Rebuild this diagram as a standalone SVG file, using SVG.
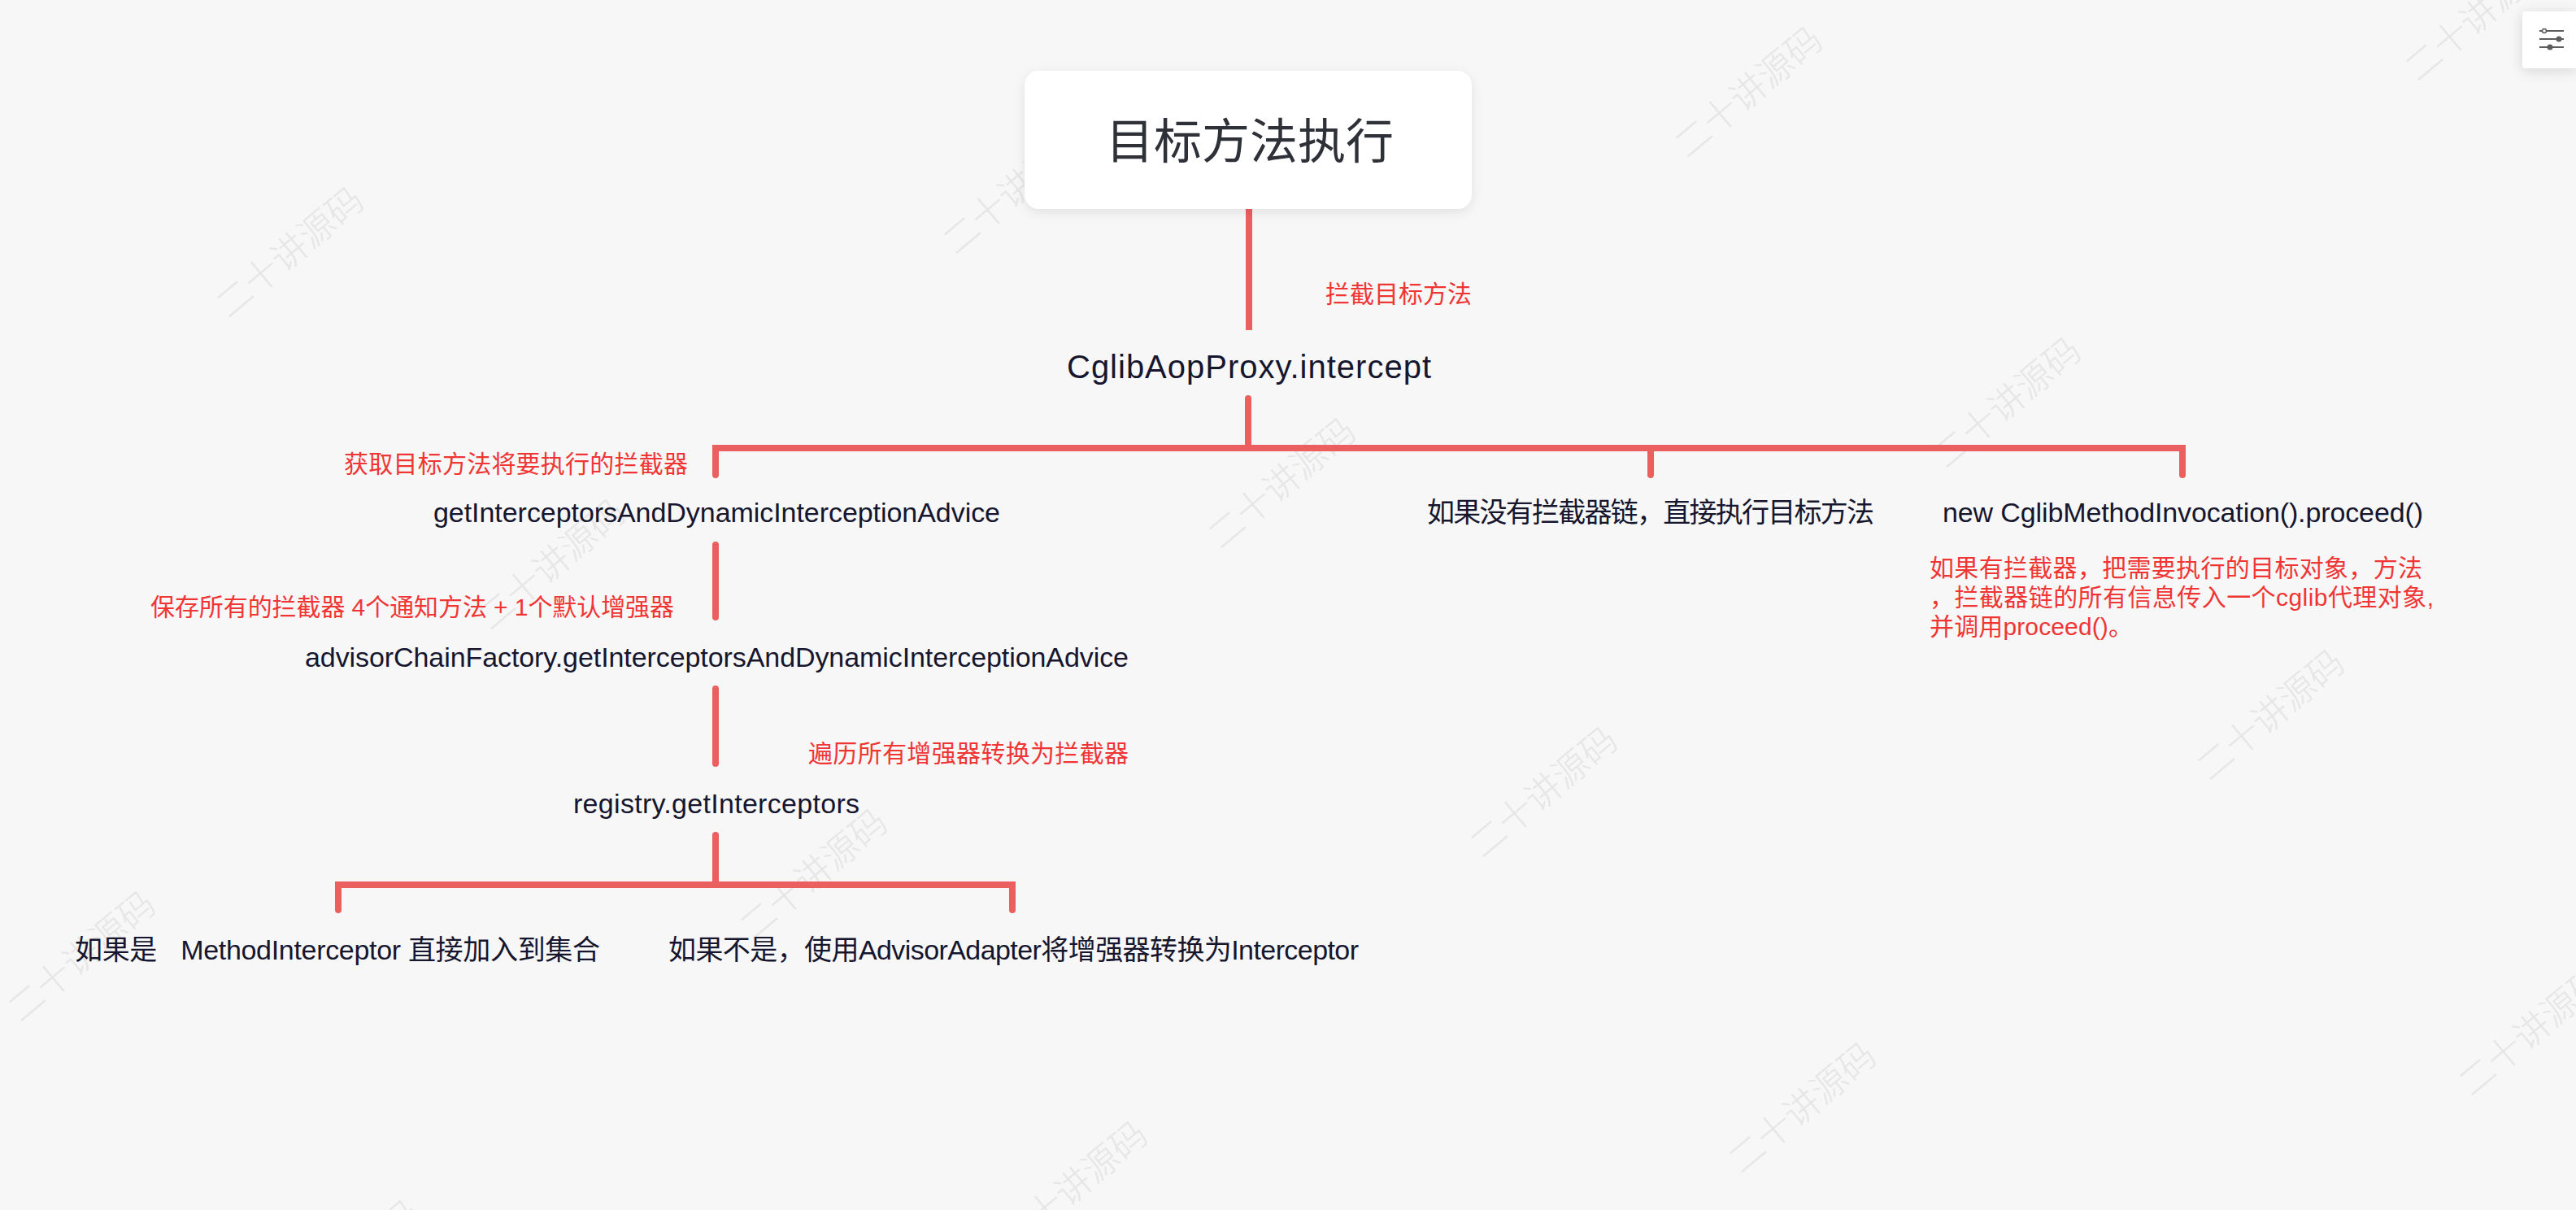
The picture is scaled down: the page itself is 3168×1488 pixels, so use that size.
<svg xmlns="http://www.w3.org/2000/svg" width="3168" height="1488" viewBox="0 0 3168 1488">
<defs>
<style>
text{font-family:"Liberation Sans","Noto Sans CJK SC",sans-serif}
.wm{font-family:"Noto Sans CJK SC",sans-serif;font-size:44px;font-weight:300;fill:#e6e6e6;text-anchor:middle}
.n{font-size:34px;fill:#16162e}
.r{font-size:30px;fill:#f03535}
.c{fill:none;stroke:#ec5f5f;stroke-width:8;stroke-linecap:round;stroke-linejoin:miter}
</style>
<filter id="sh" x="-20%" y="-20%" width="140%" height="150%"><feDropShadow dx="0" dy="4" stdDeviation="7" flood-color="#000" flood-opacity=".09"/></filter>
<filter id="sh2" x="-40%" y="-40%" width="180%" height="180%"><feDropShadow dx="0" dy="3" stdDeviation="8" flood-color="#000" flood-opacity=".14"/></filter>
</defs>
<rect width="3168" height="1488" fill="#f7f7f7"/>
<g id="watermarks">
<text class="wm" transform="translate(366 322) rotate(-40)">二十讲源码</text>
<text class="wm" transform="translate(1260 244) rotate(-40)">二十讲源码</text>
<text class="wm" transform="translate(2160 125) rotate(-40)">二十讲源码</text>
<text class="wm" transform="translate(3058 31) rotate(-40)">二十讲源码</text>
<text class="wm" transform="translate(688 706) rotate(-40)">二十讲源码</text>
<text class="wm" transform="translate(1586 606) rotate(-40)">二十讲源码</text>
<text class="wm" transform="translate(2478 507) rotate(-40)">二十讲源码</text>
<text class="wm" transform="translate(2802 891) rotate(-40)">二十讲源码</text>
<text class="wm" transform="translate(1908 986) rotate(-40)">二十讲源码</text>
<text class="wm" transform="translate(1010 1087) rotate(-40)">二十讲源码</text>
<text class="wm" transform="translate(110 1188) rotate(-40)">二十讲源码</text>
<text class="wm" transform="translate(3124 1279) rotate(-40)">二十讲源码</text>
<text class="wm" transform="translate(2226 1374) rotate(-40)">二十讲源码</text>
<text class="wm" transform="translate(1330 1471) rotate(-40)">二十讲源码</text>
<text class="wm" transform="translate(435 1568) rotate(-40)">二十讲源码</text>
</g>
<g id="connectors">
<path class="c" style="stroke-linecap:butt" d="M1536 257V406"/>
<path class="c" d="M1535 490V550"/>
<path class="c" d="M880 584V551H2684V584"/>
<path class="c" d="M2030 551V584"/>
<path class="c" d="M880 670V759"/>
<path class="c" d="M880 847V939"/>
<path class="c" d="M880 1027V1088"/>
<path class="c" d="M416 1119V1088H1245V1119"/>
</g>
<g id="root"><rect x="1260" y="87" width="550" height="170" rx="18" fill="#fff" filter="url(#sh)"/>
<text x="1537" y="195" text-anchor="middle" font-size="59" fill="#2e3238" textLength="354" style="font-family:'Noto Sans CJK SC',sans-serif;font-weight:400">目标方法执行</text></g>
<g id="n-intercept"><text class="r" x="1630" y="372" textLength="180">拦截目标方法</text>
<text class="n" x="1312" y="465" style="font-size:40px" textLength="448">CglibAopProxy.intercept</text></g>
<g id="n-getint"><text class="r" x="423" y="581" textLength="423">获取目标方法将要执行的拦截器</text>
<text class="n" x="533" y="642" textLength="697">getInterceptorsAndDynamicInterceptionAdvice</text></g>
<g id="n-advisor"><text class="r" x="185" y="757" textLength="644">保存所有的拦截器 4个通知方法 + 1个默认增强器</text>
<text class="n" x="375" y="820" textLength="1013">advisorChainFactory.getInterceptorsAndDynamicInterceptionAdvice</text></g>
<g id="n-registry"><text class="r" x="994" y="937" textLength="394">遍历所有增强器转换为拦截器</text>
<text class="n" x="705" y="1000" textLength="352">registry.getInterceptors</text></g>
<g id="n-yes"><text class="n" x="92" y="1180" textLength="646">如果是 <tspan dx="20">MethodInterceptor</tspan> 直接加入到集合</text></g>
<g id="n-no"><text class="n" x="822" y="1180" textLength="849">如果不是，使用AdvisorAdapter将增强器转换为Interceptor</text></g>
<g id="n-none"><text class="n" x="1755" y="642" textLength="550">如果没有拦截器链，直接执行目标方法</text></g>
<g id="n-new"><text class="n" x="2389" y="642" textLength="591">new CglibMethodInvocation().proceed()</text>
<text class="r" x="2373" y="709" textLength="606">如果有拦截器，把需要执行的目标对象，方法</text>
<text class="r" x="2373" y="745" textLength="620">，拦截器链的所有信息传入一个cglib代理对象,</text>
<text class="r" x="2373" y="781" textLength="250">并调用proceed()。</text></g>
<g id="settings"><path d="M3168 14H3106a4 4 0 0 0-4 4V80a4 4 0 0 0 4 4H3168Z" fill="#fff" filter="url(#sh2)"/>
<path d="M3123 38H3153M3123 48H3153M3123 58H3153" stroke="#5c5c5c" stroke-width="2" fill="none"/>
<circle cx="3129" cy="38" r="2.5" fill="#fff" stroke="#5c5c5c" stroke-width="1.5"/><circle cx="3147" cy="48" r="3.5" fill="#5c5c5c"/><circle cx="3136" cy="58" r="3.5" fill="#5c5c5c"/></g>
</svg>
